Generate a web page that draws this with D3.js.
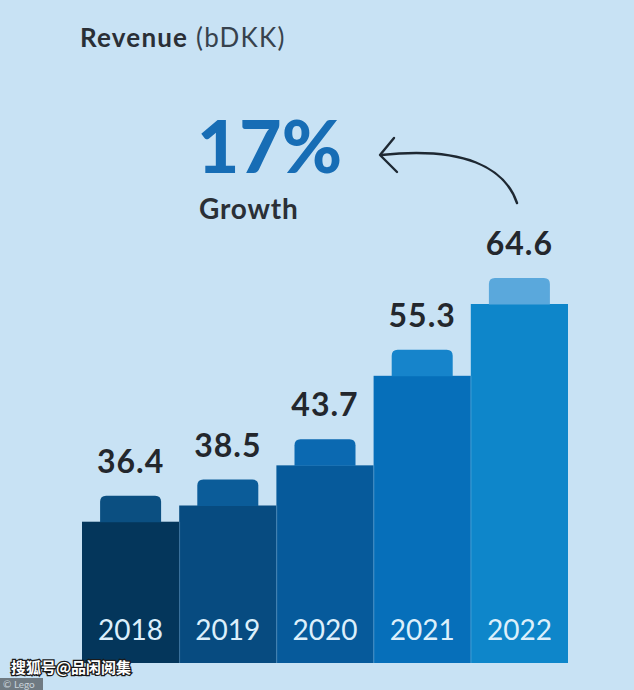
<!DOCTYPE html>
<html>
<head>
<meta charset="utf-8">
<script src="https://cdn.jsdelivr.net/npm/d3@7"></script>
<style>
  html, body { margin: 0; padding: 0; background: #c8e2f4; }
  svg { display: block; }
</style>
</head>
<body>
<svg id="chart" width="634" height="690"></svg>
<script>
const years = ["2018", "2019", "2020", "2021", "2022"];
const revenue = [36.4, 38.5, 43.7, 55.3, 64.6];
const barColors = ["#04365b", "#074b80", "#065a9b", "#066fba", "#0e86ca"];
const studColors = ["#0b4f81", "#0b5c99", "#0b69b1", "#1684cb", "#5aa8dc"];
const growthLabel = "17%";

const W = 634, H = 690;
const svg = d3.select("#chart");
svg.append("rect").attr("width", W).attr("height", H).attr("fill", "#c8e2f4");

const x = d3.scaleBand().domain(years).range([82, 568]).paddingInner(0).paddingOuter(0);
const y = d3.scaleLinear().domain([18.1, 64.6]).range([663, 304]);
const baseY = 663;
const studW = 61, studH = 26;

const g = svg.append("g");

// bars
g.selectAll("rect.bar").data(years).join("rect")
  .attr("class", "bar")
  .attr("x", d => x(d))
  .attr("y", (d, i) => y(revenue[i]))
  .attr("width", x.bandwidth())
  .attr("height", (d, i) => baseY - y(revenue[i]))
  .attr("fill", (d, i) => barColors[i]);

// subtle separators
g.selectAll("line.sep").data(years.slice(1)).join("line")
  .attr("x1", d => x(d) + 0.5).attr("x2", d => x(d) + 0.5)
  .attr("y1", (d) => y(revenue[years.indexOf(d) - 1]))
  .attr("y2", baseY)
  .attr("stroke", "rgba(255,255,255,0.12)")
  .attr("stroke-width", 1);

// studs (rounded top only)
g.selectAll("path.stud").data(years).join("path")
  .attr("class", "stud")
  .attr("d", (d, i) => {
    const cx = x(d) + x.bandwidth() / 2;
    const x0 = cx - studW / 2, x1 = cx + studW / 2;
    const yb = y(revenue[i]) + 0.5, yt = y(revenue[i]) - studH;
    const r = 6;
    return `M${x0},${yb} L${x0},${yt + r} Q${x0},${yt} ${x0 + r},${yt} L${x1 - r},${yt} Q${x1},${yt} ${x1},${yt + r} L${x1},${yb} Z`;
  })
  .attr("fill", (d, i) => studColors[i]);

// value labels
g.selectAll("text.val").data(years).join("text")
  .attr("class", "val")
  .attr("x", d => x(d) + x.bandwidth() / 2)
  .attr("y", (d, i) => y(revenue[i]) - studH - 23)
  .attr("text-anchor", "middle")
  .attr("font-family", "Lato, 'Open Sans', sans-serif")
  .attr("font-weight", 700)
  .attr("font-size", 32)
  .attr("letter-spacing", 1)
  .attr("fill", "#23272d")
  .text((d, i) => revenue[i].toFixed(1));

// year labels
g.selectAll("text.yr").data(years).join("text")
  .attr("class", "yr")
  .attr("x", d => x(d) + x.bandwidth() / 2)
  .attr("y", 640)
  .attr("text-anchor", "middle")
  .attr("font-family", "Lato, 'Open Sans', sans-serif")
  .attr("font-weight", 400)
  .attr("font-size", 28)
  .attr("fill", "#dceffb")
  .text(d => d);

// title
const title = svg.append("text")
  .attr("x", 80).attr("y", 47)
  .attr("font-family", "Lato, 'Open Sans', sans-serif")
  .attr("font-size", 26)
  .attr("letter-spacing", 1.2)
  .attr("fill", "#2a2f36");
title.append("tspan").attr("font-weight", 700).text("Revenue");
title.append("tspan").attr("font-weight", 400).attr("fill", "#37424d").text(" (bDKK)");

// growth
svg.append("text")
  .attr("x", 197).attr("y", 173)
  .attr("font-family", "Lato, 'Open Sans', sans-serif")
  .attr("font-weight", 900)
  .attr("font-size", 73)
  .attr("fill", "#176db5")
  .text(growthLabel);

svg.append("text")
  .attr("x", 199).attr("y", 219)
  .attr("font-family", "Lato, 'Open Sans', sans-serif")
  .attr("font-weight", 700)
  .attr("font-size", 28)
  .attr("letter-spacing", 0.8)
  .attr("fill", "#2a2f36")
  .text("Growth");

// arrow
svg.append("path")
  .attr("d", "M517,203 C505,168 465,146 381,155")
  .attr("fill", "none")
  .attr("stroke", "#1e2832")
  .attr("stroke-width", 2.4)
  .attr("stroke-linecap", "round");
svg.append("path")
  .attr("d", "M394,138 L380,155 L397,172")
  .attr("fill", "none")
  .attr("stroke", "#1e2832")
  .attr("stroke-width", 2.4)
  .attr("stroke-linecap", "round")
  .attr("stroke-linejoin", "round");

// watermark
svg.append("rect").attr("x", 0).attr("y", 678).attr("width", 43).attr("height", 12).attr("fill", "#6f7a82");
svg.append("text")
  .attr("x", 3).attr("y", 688)
  .attr("font-family", "Lato, sans-serif")
  .attr("font-size", 10)
  .attr("fill", "#c9d3da")
  .text("© Lego");
svg.append("text")
  .attr("x", 11).attr("y", 673)
  .attr("font-family", "'Noto Sans CJK SC', sans-serif")
  .attr("font-weight", 700)
  .attr("font-size", 15)
  .attr("fill", "#ffffff")
  .attr("stroke", "#1a1a1a")
  .attr("stroke-width", 2.5)
  .attr("paint-order", "stroke")
  .text("搜狐号@品闲阅集");
</script>
</body>
</html>
